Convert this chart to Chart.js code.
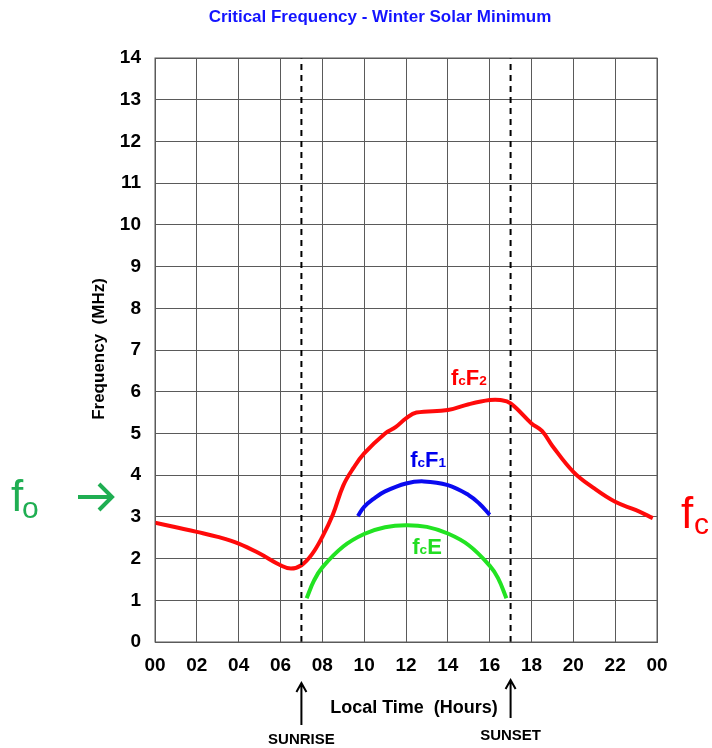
<!DOCTYPE html>
<html>
<head>
<meta charset="utf-8">
<script src="https://cdn.jsdelivr.net/npm/chart.js@4/dist/chart.umd.min.js"></script>
<style>
  html, body { margin: 0; padding: 0; background: #fff; }
  canvas { display: block; }
</style>
</head>
<body>
<canvas id="freqChart" width="712" height="748"></canvas>
<script>
// hours / MHz
const f2Hours = [0, 1, 2, 3, 4, 5, 6, 6.5, 7, 7.5, 8, 8.5, 9, 9.5, 10, 11, 11.5, 12, 12.5, 14, 15, 16, 16.5, 17, 18, 18.5, 19, 20, 21, 22, 23, 23.8];
const f2Values = [2.86, 2.75, 2.64, 2.52, 2.36, 2.12, 1.84, 1.76, 1.84, 2.1, 2.52, 3.05, 3.75, 4.18, 4.52, 5.0, 5.15, 5.36, 5.5, 5.56, 5.7, 5.8, 5.8, 5.72, 5.24, 5.06, 4.7, 4.08, 3.68, 3.36, 3.16, 2.97];

const f1Hours = [9.7, 10, 10.5, 11, 12, 12.85, 14, 15, 15.5, 16];
const f1Values = [3.02, 3.24, 3.45, 3.61, 3.8, 3.85, 3.76, 3.52, 3.32, 3.05];

const eHours = [7.25, 7.6, 8, 9, 10, 11, 12, 13, 14, 15, 16, 16.4, 16.8];
const eValues = [1.05, 1.47, 1.79, 2.29, 2.59, 2.75, 2.8, 2.76, 2.6, 2.32, 1.83, 1.53, 1.05];

const sunriseHour = 7;
const sunsetHour = 17;

const xTicks = ["00", "02", "04", "06", "08", "10", "12", "14", "16", "18", "20", "22", "00"];

const FONT = "'Liberation Sans', Arial, sans-serif";

function pts(xs, ys) {
  return xs.map((x, i) => ({ x: x, y: ys[i] }));
}

// f + subscript c + rest + optional subscript
function subLabel(ctx, x, y, parts, size, color) {
  ctx.fillStyle = color;
  ctx.textBaseline = "alphabetic";
  ctx.textAlign = "left";
  let cx = x;
  parts.forEach((p) => {
    let s = p.sub ? size * 0.62 : size;
    ctx.font = "bold " + s + "px " + FONT;
    ctx.fillText(p.t, cx, y);
    cx += ctx.measureText(p.t).width;
  });
}

const annotations = {
  id: "annotations",
  afterDraw(chart) {
    const ctx = chart.ctx;
    const xs = chart.scales.x, ys = chart.scales.y;
    ctx.save();

    // title
    ctx.font = "bold 17px " + FONT;
    ctx.fillStyle = "#1414ff";
    ctx.textAlign = "center";
    ctx.textBaseline = "middle";
    ctx.fillText("Critical Frequency - Winter Solar Minimum", 380, 17);

    // y title
    ctx.save();
    ctx.translate(99, 349);
    ctx.rotate(-Math.PI / 2);
    ctx.font = "bold 17px " + FONT;
    ctx.fillStyle = "#000";
    ctx.fillText("Frequency  (MHz)", 0, 0);
    ctx.restore();

    // x title
    ctx.font = "bold 18px " + FONT;
    ctx.fillStyle = "#000";
    ctx.textAlign = "center";
    ctx.fillText("Local Time  (Hours)", 414, 708);

    // sunrise / sunset arrows
    ctx.strokeStyle = "#000";
    ctx.lineWidth = 2;
    [[xs.getPixelForValue(sunriseHour), 683, 725, "SUNRISE", 740],
     [xs.getPixelForValue(sunsetHour), 680, 718, "SUNSET", 736]].forEach((a) => {
      ctx.beginPath();
      ctx.moveTo(a[0], a[2]);
      ctx.lineTo(a[0], a[1]);
      ctx.moveTo(a[0] - 5, a[1] + 9);
      ctx.lineTo(a[0], a[1]);
      ctx.lineTo(a[0] + 5, a[1] + 9);
      ctx.stroke();
      ctx.font = "bold 15px " + FONT;
      ctx.textAlign = "center";
      ctx.fillText(a[3], a[0], a[4]);
    });

    // curve labels
    subLabel(ctx, xs.getPixelForValue(14.15), ys.getPixelForValue(6.16),
      [{ t: "f" }, { t: "c", sub: true }, { t: "F" }, { t: "2", sub: true }], 22, "#ff0000");
    subLabel(ctx, xs.getPixelForValue(12.2), ys.getPixelForValue(4.2),
      [{ t: "f" }, { t: "c", sub: true }, { t: "F" }, { t: "1", sub: true }], 22, "#0000ee");
    subLabel(ctx, xs.getPixelForValue(12.3), ys.getPixelForValue(2.1),
      [{ t: "f" }, { t: "c", sub: true }, { t: "E" }], 22, "#22dd22");

    // fo -> on the left, fc on the right
    ctx.textAlign = "left";
    ctx.font = "44px " + FONT;
    ctx.fillStyle = "#1fae52";
    ctx.fillText("f", 11, 511);
    ctx.font = "30px " + FONT;
    ctx.fillText("o", 22, 518);

    ctx.strokeStyle = "#1fae52";
    ctx.lineWidth = 4;
    ctx.beginPath();
    ctx.moveTo(78, 497);
    ctx.lineTo(111, 497);
    ctx.moveTo(99, 484);
    ctx.lineTo(112, 497);
    ctx.lineTo(99, 510);
    ctx.stroke();

    ctx.fillStyle = "#ff0000";
    ctx.font = "44px " + FONT;
    ctx.fillText("f", 681, 528);
    ctx.font = "30px " + FONT;
    ctx.fillText("c", 694, 534);

    ctx.restore();
  },
};

const ctx = document.getElementById("freqChart").getContext("2d");
new Chart(ctx, {
  type: "line",
  data: {
    datasets: [
      {
        label: "sunrise",
        data: [{ x: sunriseHour, y: 0 }, { x: sunriseHour, y: 14 }],
        borderColor: "#000",
        borderWidth: 2,
        borderDash: [6, 5],
        pointRadius: 0,
      },
      {
        label: "sunset",
        data: [{ x: sunsetHour, y: 0 }, { x: sunsetHour, y: 14 }],
        borderColor: "#000",
        borderWidth: 2,
        borderDash: [6, 5],
        pointRadius: 0,
      },
      {
        label: "fcE",
        data: pts(eHours, eValues),
        borderColor: "#22e322",
        borderWidth: 4,
        pointRadius: 0,
        tension: 0.4,
      },
      {
        label: "fcF1",
        data: pts(f1Hours, f1Values),
        borderColor: "#0a0af0",
        borderWidth: 4,
        pointRadius: 0,
        tension: 0.4,
      },
      {
        label: "fcF2",
        data: pts(f2Hours, f2Values),
        borderColor: "#ff0a0a",
        borderWidth: 4,
        pointRadius: 0,
        tension: 0.4,
      },
    ],
  },
  options: {
    responsive: false,
    animation: false,
    devicePixelRatio: 1,
    layout: { padding: { top: 58, right: 55, left: 0, bottom: 0 } },
    plugins: {
      legend: { display: false },
      tooltip: { enabled: false },
    },
    scales: {
      x: {
        type: "linear",
        min: 0,
        max: 24,
        afterFit: (s) => { s.height = 106; },
        afterBuildTicks: (s) => {
          s.ticks = xTicks.map((t, i) => ({ value: i * 2 }));
        },
        ticks: {
          stepSize: 2,
          padding: 12,
          color: "#000",
          font: { family: FONT, size: 19, weight: "bold" },
          callback: (v) => xTicks[v / 2],
        },
        grid: { color: "#5a5a5a", lineWidth: 1, drawTicks: false },
        border: { color: "#5a5a5a", width: 1 },
      },
      y: {
        min: 0,
        max: 14,
        afterFit: (s) => { s.width = 155; },
        ticks: {
          stepSize: 1,
          padding: 14,
          color: "#000",
          font: { family: FONT, size: 19, weight: "bold" },
        },
        grid: { color: "#5a5a5a", lineWidth: 1, drawTicks: false },
        border: { color: "#5a5a5a", width: 1 },
      },
    },
  },
  plugins: [
    {
      id: "frame",
      afterDraw(chart) {
        const a = chart.chartArea, c = chart.ctx;
        c.save();
        c.strokeStyle = "#5a5a5a";
        c.lineWidth = 1;
        c.strokeRect(a.left, a.top, a.right - a.left, a.bottom - a.top);
        c.restore();
      },
    },
    annotations,
  ],
});
</script>
</body>
</html>
